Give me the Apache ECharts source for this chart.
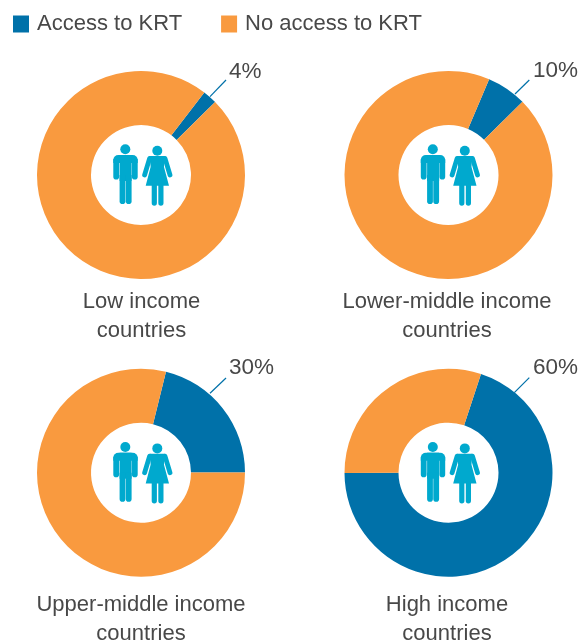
<!DOCTYPE html>
<html><head><meta charset="utf-8">
<style>html,body{margin:0;padding:0;background:#fff}#c{width:578px;height:642px}</style>
<script src="https://cdn.jsdelivr.net/npm/echarts@6/dist/echarts.min.js"></script>
</head><body><div id="c"></div>
<script>
const seriesNames = ['Access to KRT', 'No access to KRT'];
const groupNames = ['Low income\ncountries', 'Lower-middle income\ncountries', 'Upper-middle income\ncountries', 'High income\ncountries'];
const statedLabels = ['4%', '10%', '30%', '60%'];
// Share of the ring occupied by each slice as drawn in the picture (percent of the circle)
const accessDrawn = [2.2, 6.2, 21.1, 69.9];
const noAccessDrawn = [97.8, 93.8, 78.9, 30.1];
// Clockwise angle from north where the blue slice begins
const sliceStart = [37.5, 23, 13.9, 18.2];

const BLUE = '#0071a9', ORANGE = '#f99a3f', ICON = '#00a9ce', TEXT = '#484848';
const FONT = '"Liberation Sans", Arial, sans-serif';
const centers = [[141,175],[448.5,175],[141,472.7],[448.5,472.7]];
const labelPos = [[229,72],[533,71],[229,368],[533,368]];
const leaders = [[[210,96.7],[226,80]],[[515,94],[529.3,80]],[[210,393.3],[226,378]],[[514.3,392.7],[529.3,377.7]]];
const captionPos = [[141.5,288],[447,288],[141,591],[447,591]];

function icon(cx, cy){
  const st = {fill: ICON};
  const r = (x,y,w,h,rr)=>({type:'rect',shape:{x:cx+x,y:cy+y,width:w,height:h,r:rr},style:st,silent:true,z:10});
  const c = (x,y,rad)=>({type:'circle',shape:{cx:cx+x,cy:cy+y,r:rad},style:st,silent:true,z:10});
  const arm = (x1,y1,x2,y2)=>({type:'line',shape:{x1:cx+x1,y1:cy+y1,x2:cx+x2,y2:cy+y2},style:{stroke:ICON,lineWidth:4.8,lineCap:'round'},silent:true,z:10});
  return [
    c(-15.7,-25.7,5),
    r(-27.7,-20,24.4,8,[5,5,0,0]),
    r(-27.7,-16,5.8,20.5,[0,0,2.8,2.8]),
    r(-9.1,-16,5.8,20.5,[0,0,2.8,2.8]),
    r(-21.4,-20,12,26,0),
    r(-21.4,0,5.8,29,[0,0,2.8,2.8]),
    r(-15.2,0,5.8,29,[0,0,2.8,2.8]),
    c(16.3,-24.3,5),
    {type:'polygon',shape:{points:[[cx+9,cy-19],[cx+23.6,cy-19],[cx+23,cy-8],[cx+28,cy+10.7],[cx+4.7,cy+10.7],[cx+9.6,cy-8]]},style:st,silent:true,z:10},
    arm(8.6,-16.6,3.6,0),
    arm(24,-16.6,29,0),
    r(10.7,9,5.2,21.7,[0,0,2.6,2.6]),
    r(17.3,9,5.2,21.7,[0,0,2.6,2.6])
  ];
}

const series = groupNames.map((g,i)=>({
  type:'pie',
  name:g.replace('\n',' '),
  center:centers[i],
  radius:[50,104],
  startAngle:90-sliceStart[i],
  clockwise:true,
  silent:true,
  animation:false,
  avoidLabelOverlap:false,
  labelLine:{show:false},
  label:{show:false},
  labelLayout:()=>({x:labelPos[i][0],y:labelPos[i][1],align:'left',verticalAlign:'middle'}),
  data:[
    {name:seriesNames[0],value:accessDrawn[i],itemStyle:{color:BLUE},
     label:{show:true,position:'outside',formatter:statedLabels[i],fontFamily:FONT,fontSize:22.5,color:TEXT}},
    {name:seriesNames[1],value:noAccessDrawn[i],itemStyle:{color:ORANGE}}
  ]
}));

const graphic = [];
centers.forEach(c=>graphic.push(...icon(c[0],c[1])));
leaders.forEach(l=>graphic.push({type:'line',shape:{x1:l[0][0],y1:l[0][1],x2:l[1][0],y2:l[1][1]},style:{stroke:BLUE,lineWidth:1.2},silent:true,z:9}));

const chart = echarts.init(document.getElementById('c'),null,{renderer:'canvas'});
chart.setOption({
  animation:false,
  backgroundColor:'#fff',
  legend:{
    left:13,top:13,padding:0,orient:'horizontal',icon:'rect',itemWidth:16,itemHeight:17,itemGap:39,
    textStyle:{fontFamily:FONT,fontSize:22,color:TEXT,padding:[0,0,0,3]},
    selectedMode:false,
    data:seriesNames
  },
  title:groupNames.map((g,i)=>({
    text:g,left:captionPos[i][0],top:captionPos[i][1],textAlign:'center',padding:0,
    textStyle:{fontFamily:FONT,fontSize:22,fontWeight:'normal',color:TEXT,lineHeight:28.5}
  })),
  series,
  graphic
});
</script></body></html>
